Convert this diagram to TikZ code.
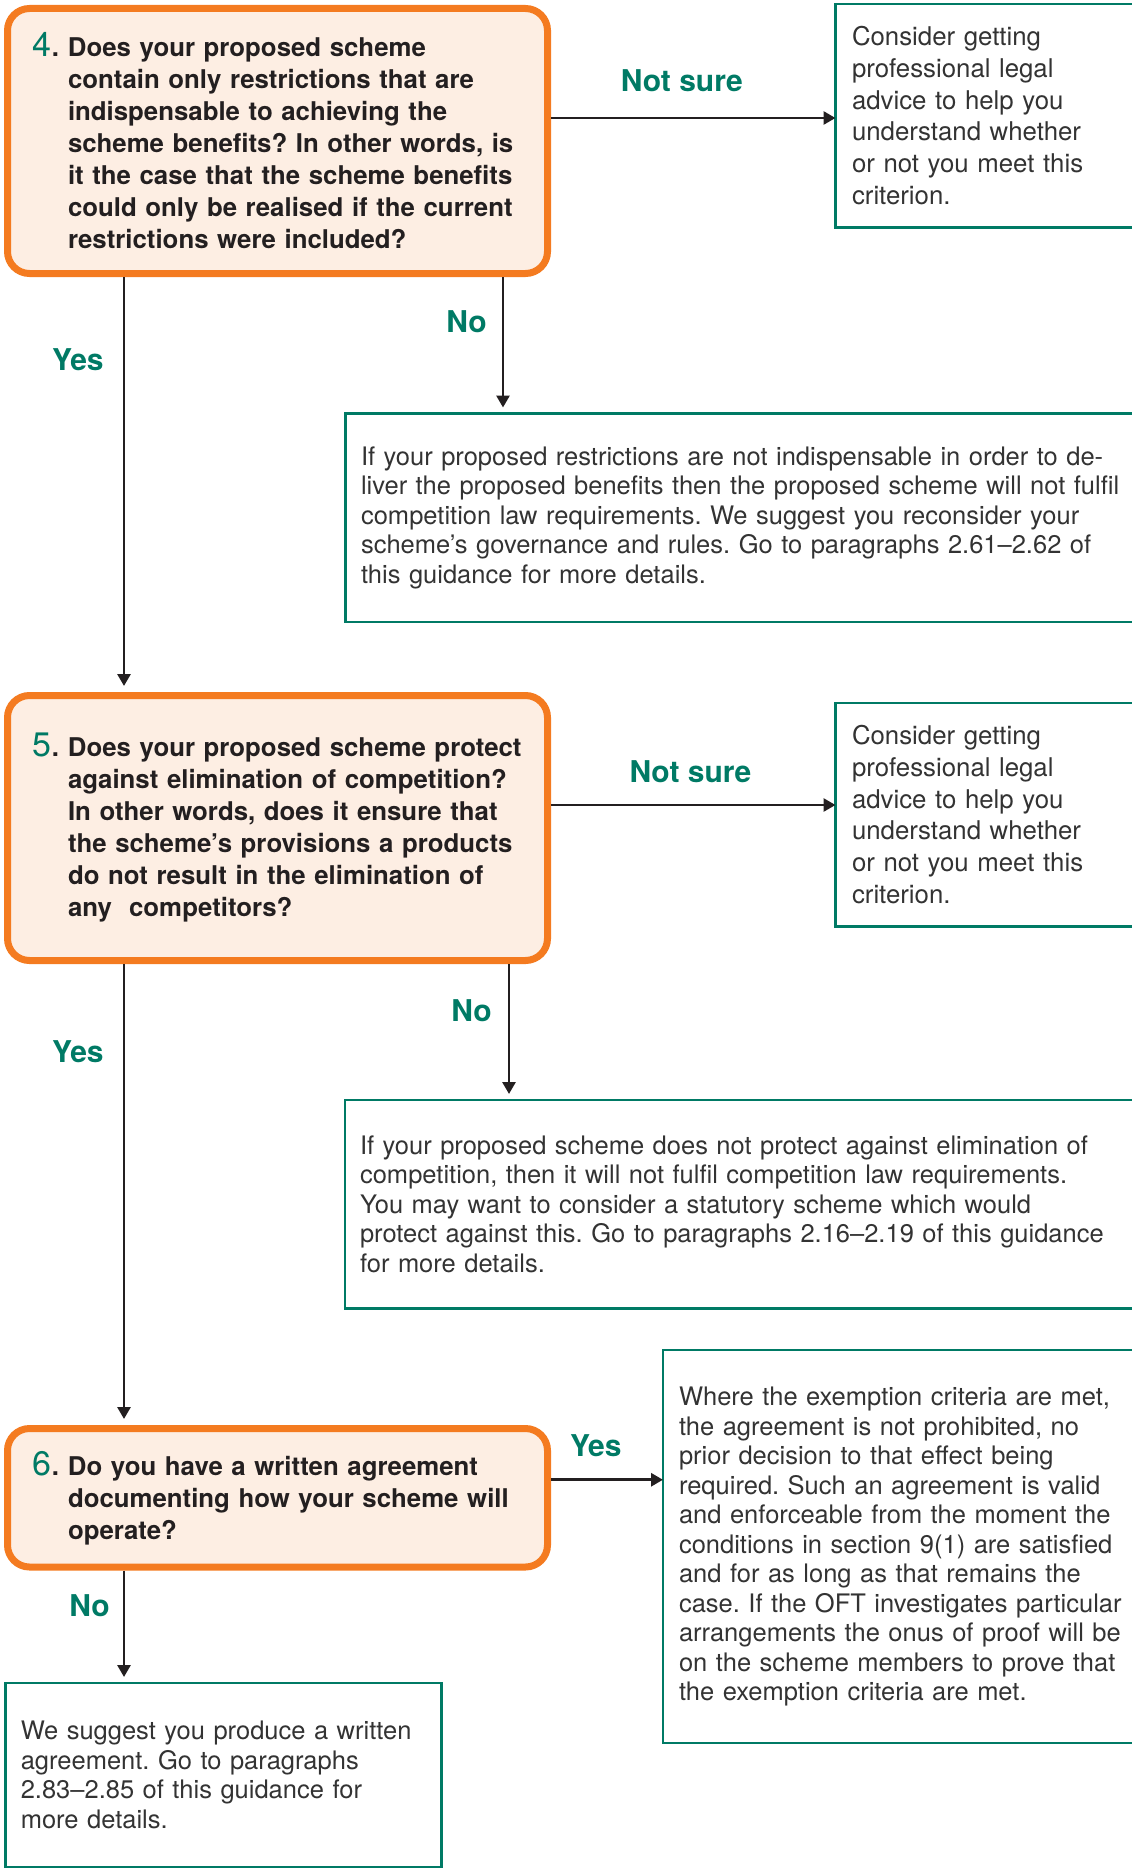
\documentclass[tikz,border=0pt]{standalone}
\usepackage{fontspec}
\setmainfont{TeX Gyre Heros}
\usetikzlibrary{positioning,arrows.meta}
\frenchspacing

\definecolor{oftorange}{HTML}{F47B20}
\definecolor{oftcream}{HTML}{FDEEE3}
\definecolor{oftgreen}{HTML}{007A65}
\definecolor{oftink}{HTML}{231F20}
\definecolor{oftgrey}{HTML}{333333}

% question text with hanging number
\newcommand{\qtext}[2]{\noindent\leftskip=52.5pt\llap{{\color{oftgreen}\mdseries\fontsize{34}{32}\selectfont #1}.\hspace{9pt}}#2\par}

\begin{document}
\begin{tikzpicture}[
  x=1pt, y=1pt,
  >={Triangle[length=12pt,width=13pt]},
  question/.style={draw=oftorange, fill=oftcream, line width=7pt, rounded corners=22pt,
    minimum width=540pt, inner xsep=8pt, text width=524pt, align=left, anchor=north west,
    text=oftink, font=\bfseries\fontsize{25.8}{32}\selectfont},
  advice/.style={draw=oftgreen, line width=2.8pt, outer sep=0pt, align=left, anchor=north west,
    text=oftgrey, font=\fontsize{25.5}{29.5}\selectfont},
  consider/.style={advice, minimum width=309.5pt, minimum height=223.3pt, inner xsep=16.5pt,
    text width=276.5pt, font=\fontsize{25.8}{31.7}\selectfont},
  answer/.style={text=oftgreen, inner sep=0pt, font=\bfseries\fontsize{30}{30}\selectfont},
  arrow/.style={->, line width=2.8pt, draw=oftink}
]
  \useasboundingbox (0,0) rectangle (1132,-1868);
  \clip (0,0) rectangle (1132,-1868);

  % questions
  \node[question, minimum height=265pt] (q4) at (4,-5) {\qtext{4}{Does your proposed scheme\\
    contain only restrictions that are\\ indispensable to achieving the\\
    scheme benefits? In other words, is\\ it the case that the scheme benefits\\
    could only be realised if the current\\ restrictions were included?}};
  \node[question, minimum height=265pt, below=415pt of q4] (q5) {\qtext{5}{Does your proposed scheme protect\\
    against elimination of competition?\\ In other words, does it ensure that\\
    the scheme’s provisions a products\\ do not result in the elimination of\\
    any\ \ competitors?}};
  \node[question, minimum height=138.5pt, below=461pt of q5] (q6) {\qtext{6}{Do you have a written agreement\\
    documenting how your scheme will\\ operate?}};

  % outcomes
  \node[consider] (c4) at (835.5,-4) {Consider getting\\ professional legal\\
    advice to help you\\ understand whether\\ or not you meet this\\ criterion.};
  \node[advice, minimum width=800pt, minimum height=208.5pt, inner xsep=15.5pt, text width=769pt]
    (r4) at (345.5,-413.5) {If your proposed restrictions are not indispensable in order to de-\\
    liver the proposed benefits then the proposed scheme will not fulfil\\
    competition law requirements. We suggest you reconsider your\\
    scheme’s governance and rules. Go to paragraphs 2.61–2.62 of\\
    this guidance for more details.};
  \node[consider] (c5) at (835.5,-703) {Consider getting\\ professional legal\\
    advice to help you\\ understand whether\\ or not you meet this\\ criterion.};
  \node[advice, minimum width=800pt, minimum height=208.5pt, inner xsep=15pt, text width=770pt]
    (r5) at (345,-1100) {If your proposed scheme does not protect against elimination of\\
    competition, then it will not fulfil competition law requirements.\\
    You may want to consider a statutory scheme which would\\
    protect against this. Go to paragraphs 2.16–2.19 of this guidance\\
    for more details.};
  \node[advice, minimum width=482pt, minimum height=393pt, inner xsep=16pt, text width=450pt]
    (ok) at (663,-1350) {Where the exemption criteria are met,\\ the agreement is not prohibited, no\\
    prior decision to that effect being\\ required. Such an agreement is valid\\
    and enforceable from the moment the\\ conditions in section 9(1) are satisfied\\
    and for as long as that remains the\\ case. If the OFT investigates particular\\
    arrangements the onus of proof will be\\ on the scheme members to prove that\\
    the exemption criteria are met.};
  \node[advice, minimum width=436pt, minimum height=184pt, inner xsep=15.5pt, text width=405pt]
    (wr) at (5.3,-1683) {We suggest you produce a written\\ agreement. Go to paragraphs\\
    2.83–2.85 of this guidance for\\ more details.};

  % connectors
  \draw[arrow] ([yshift=23pt]q4.east) -- ([yshift=23pt]q4.east -| c4.west)
    node[answer, pos=.46, above=25pt] {Not sure};
  \draw[arrow, shorten >=6pt] ([xshift=499pt]q4.south west) -- ([xshift=499pt]q4.south west |- r4.north)
    node[answer, pos=.33, left=15pt] {No};
  \draw[arrow, shorten >=6pt] ([xshift=120pt]q4.south west) -- ([xshift=120pt]q5.north west)
    node[answer, pos=.2, left=19pt] {Yes};

  \draw[arrow] ([yshift=23pt]q5.east) -- ([yshift=23pt]q5.east -| c5.west)
    node[answer, pos=.49, above=21pt] {Not sure};
  \draw[arrow, shorten >=6pt] ([xshift=505pt]q5.south west) -- ([xshift=505pt]q5.south west |- r5.north)
    node[answer, pos=.34, left=16pt] {No};
  \draw[arrow, shorten >=6pt] ([xshift=120pt]q5.south west) -- ([xshift=120pt]q6.north west)
    node[answer, pos=.19, left=19pt] {Yes};

  \draw[arrow] ([yshift=18pt]q6.east) -- ([yshift=18pt]q6.east -| ok.west)
    node[answer, pos=.4, above=22pt] {Yes};
  \draw[arrow, shorten >=6pt] ([xshift=120pt]q6.south west) -- ([xshift=120pt]q6.south west |- wr.north)
    node[answer, pos=.31, left=13pt] {No};
\end{tikzpicture}
\end{document}
